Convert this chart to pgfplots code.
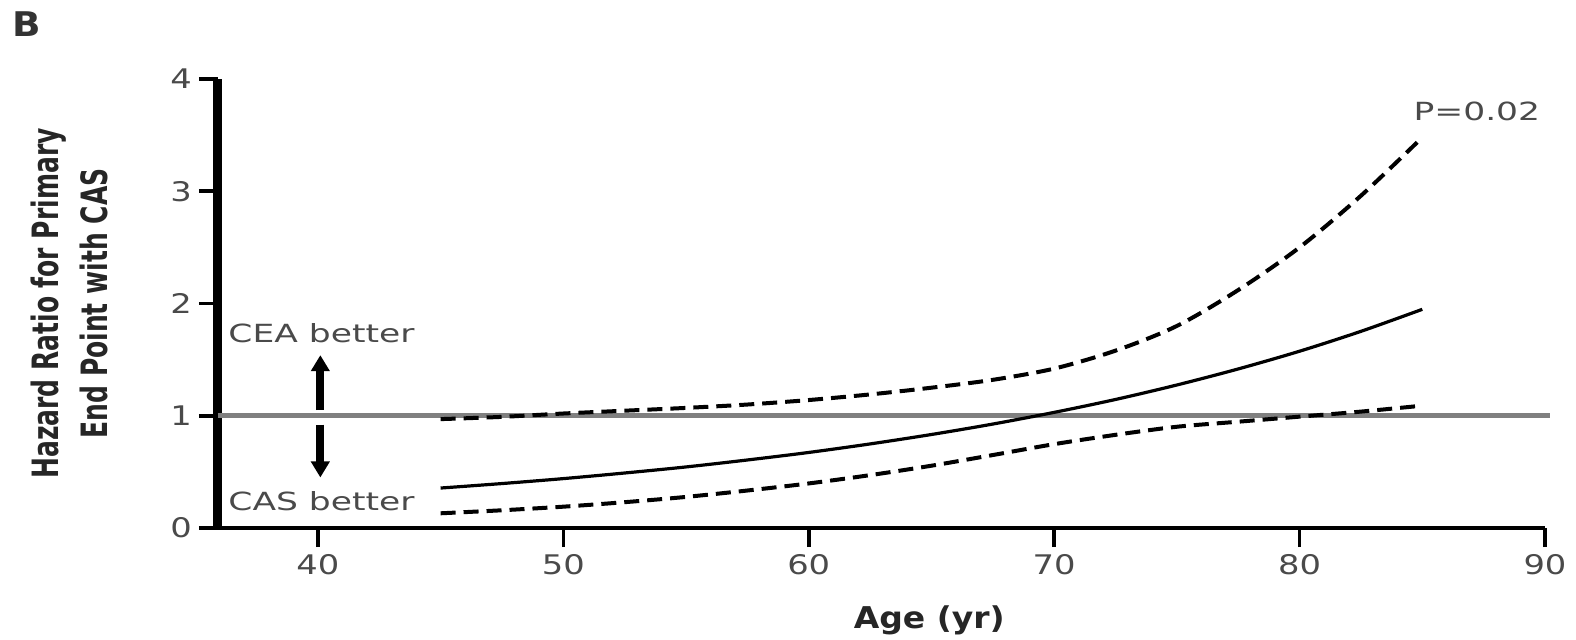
\documentclass[border=0pt]{standalone}
\usepackage{pgfplots}
\pgfplotsset{compat=1.18}
\usepackage{fontspec}
\setmainfont{DejaVu Sans}
\usetikzlibrary{arrows.meta}
\definecolor{txtgray}{HTML}{4A4A4A}
\definecolor{refgray}{HTML}{808080}
\newcommand\sx[1]{\scalebox{1.38}[1]{#1}}
\begin{document}
\begin{tikzpicture}
\begin{axis}[
  scale only axis, width=663.5pt, height=224.5pt,
  xmin=35.93, xmax=90, ymin=0, ymax=4,
  axis x line=bottom, axis y line=left,
  x axis line style={-, line width=2pt, black},
  y axis line style={-, line width=4.5pt, black},
  xtick={40,50,60,70,80,90}, ytick={0,1,2,3,4},
  tick align=outside, major tick length=9.5pt,
  tick style={line width=1.8pt, black},
  /pgf/number format/assume math mode=true,
  every tick label/.append style={font=\fontsize{13.5}{15}\selectfont, text=txtgray},
  xticklabel={\scalebox{1.25}[1]{\pgfmathprintnumber{\tick}}},
  yticklabel={\scalebox{1.25}[1]{\pgfmathprintnumber{\tick}}},
  clip=false,
]
\coordinate (SW) at (rel axis cs:0,0);
\coordinate (NE) at (rel axis cs:1,1);
% reference line HR = 1
\addplot[refgray, line width=2.5pt] coordinates {(35.93,1) (90.2,1)};
% hazard ratio estimate
\addplot[black, line width=1.6pt, smooth] coordinates {
(45,0.356) (47.5,0.396) (50,0.440) (52.5,0.490) (55,0.544) (57.5,0.606)
(60,0.673) (62.5,0.749) (65,0.833) (67.5,0.926) (70,1.030) (72.5,1.145)
(75,1.274) (77.5,1.417) (80,1.575) (82.5,1.752) (85,1.948)};
% upper confidence limit
\addplot[black, line width=2pt, smooth, dash pattern=on 7.5pt off 4pt] coordinates {
(45,0.97) (47.5,0.99) (50,1.02) (52.5,1.045) (55,1.07) (57.5,1.10)
(60,1.14) (62.5,1.19) (65,1.25) (67.5,1.32) (70,1.42) (72.5,1.58)
(75,1.80) (77.5,2.12) (80,2.50) (82.5,2.96) (85,3.48)};
% lower confidence limit
\addplot[black, line width=2pt, smooth, dash pattern=on 7.5pt off 4pt] coordinates {
(45,0.131) (47.5,0.158) (50,0.190) (52.5,0.230) (55,0.277) (57.5,0.334)
(60,0.397) (62.5,0.471) (65,0.555) (67.5,0.650) (70,0.747) (72.5,0.830)
(75,0.902) (77.5,0.947) (80,0.992) (82.5,1.037) (85,1.090)};
% annotations
\draw[line width=4pt, -{Triangle[width=9pt,length=8pt]}] (axis cs:40.1,1.05) -- (axis cs:40.1,1.54);
\draw[line width=4pt, -{Triangle[width=9pt,length=8pt]}] (axis cs:40.1,0.92) -- (axis cs:40.1,0.45);
\node[anchor=base west, inner sep=0pt, text=txtgray, font=\fontsize{12.5}{14}\selectfont] at (axis cs:36.34,1.65) {\sx{CEA better}};
\node[anchor=base west, inner sep=0pt, text=txtgray, font=\fontsize{12.5}{14}\selectfont] at (axis cs:36.34,0.16) {\sx{CAS better}};
\node[anchor=base west, inner sep=0pt, text=txtgray, font=\fontsize{12.5}{14}\selectfont] at (axis cs:84.63,3.63) {\sx{P=0.02}};
\node[anchor=center, inner sep=0pt, font=\bfseries\fontsize{15}{17}\selectfont, text=black!85] at ([yshift=-46pt]rel axis cs:0.536,0) {\scalebox{1.1}[1]{Age (yr)}};
\node[anchor=center, inner sep=0pt, rotate=90, font=\bfseries\fontsize{12.5}{14}\selectfont, text=black!85] at ([xshift=-71.5pt]rel axis cs:0,0.5) {\scalebox{1}[1.45]{\begin{tabular}{@{}c@{}}Hazard Ratio for Primary\\[3pt]End Point with CAS\end{tabular}}};
\node[anchor=center, inner sep=0pt, font=\bfseries\fontsize{17}{19}\selectfont, text=black!80] at ([xshift=-95.5pt,yshift=27.5pt]rel axis cs:0,1) {\scalebox{1.1}[1]{B}};
\end{axis}
\pgfresetboundingbox
\path ([xshift=-109pt,yshift=-55.5pt]SW) rectangle ([xshift=15.5pt,yshift=39.5pt]NE);
\end{tikzpicture}
\end{document}
